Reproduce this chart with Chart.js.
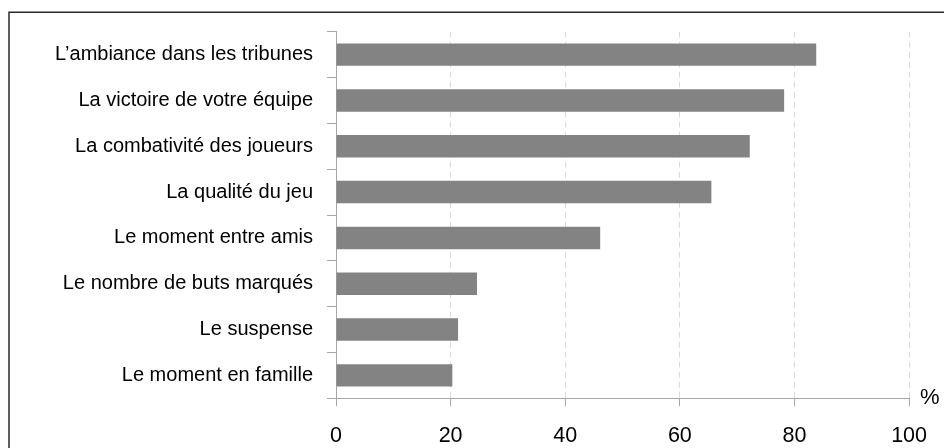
<!DOCTYPE html>
<html>
<head>
<meta charset="utf-8">
<script src="https://cdn.jsdelivr.net/npm/chart.js@4/dist/chart.umd.min.js"></script>
<style>
  html, body { margin: 0; padding: 0; background: #fff; }
  #wrap { position: relative; width: 944px; height: 448px; }
</style>
</head>
<body>
<div id="wrap"><canvas id="chart" width="944" height="448"></canvas></div>
<script>
// Survey answers: what matters most when attending a match (%)
const categories = [
  "L\u2019ambiance dans les tribunes",
  "La victoire de votre équipe",
  "La combativité des joueurs",
  "La qualité du jeu",
  "Le moment entre amis",
  "Le nombre de buts marqués",
  "Le suspense",
  "Le moment en famille"
];
const shares = [83.8, 78.2, 72.2, 65.5, 46.1, 24.6, 21.3, 20.3];
const xTicks = [0, 20, 40, 60, 80, 100];
const unitLabel = "%";

const FONT = "'Liberation Sans', Arial, sans-serif";
const AXIS_GREY = "#a6a6a6";

// Frame around the figure and the unit label at the end of the value axis
const decorations = {
  id: "decorations",
  beforeDraw(chart) {
    const { ctx } = chart;
    ctx.save();
    ctx.fillStyle = "#fff";
    ctx.fillRect(0, 0, chart.width, chart.height);
    ctx.strokeStyle = "#2a2a2a";
    ctx.lineWidth = 1.5;
    ctx.strokeRect(9, 12.25, 1000, 1000);
    ctx.restore();
  },
  afterDraw(chart) {
    const { ctx } = chart;
    const xs = chart.scales.x;
    ctx.save();
    ctx.fillStyle = "#000";
    ctx.font = "22px " + FONT;
    ctx.textAlign = "left";
    ctx.textBaseline = "middle";
    ctx.fillText(unitLabel, xs.right + 11, xs.top);
    ctx.restore();
  }
};

new Chart(document.getElementById("chart"), {
  type: "bar",
  data: {
    labels: categories,
    datasets: [{
      data: shares,
      backgroundColor: "#838383",
      borderWidth: 0,
      categoryPercentage: 1,
      barPercentage: 0.49
    }]
  },
  options: {
    indexAxis: "y",
    responsive: false,
    animation: false,
    layout: { padding: { top: 31.7, right: 28.3, left: 0, bottom: 0 } },
    plugins: { legend: { display: false }, tooltip: { enabled: false } },
    scales: {
      x: {
        min: 0,
        max: 100,
        afterFit(scale) { scale.height = 49.7; },
        afterBuildTicks(scale) { scale.ticks = xTicks.map(v => ({ value: v })); },
        ticks: {
          color: "#000",
          font: { family: FONT, size: 21.5 },
          padding: 17,
          maxRotation: 0
        },
        grid: {
          color: "#dadada",
          lineWidth: 1,
          borderDash: [6, 4],
          tickLength: 8,
          tickColor: AXIS_GREY,
          tickBorderDash: []
        },
        border: { color: AXIS_GREY, width: 1, dash: [6, 4] }
      },
      y: {
        afterFit(scale) { scale.width = 336; },
        ticks: {
          color: "#000",
          font: { family: FONT, size: 20 },
          padding: 14
        },
        grid: {
          offset: true,
          drawOnChartArea: false,
          tickLength: 9,
          tickColor: AXIS_GREY
        },
        border: { color: AXIS_GREY, width: 1 }
      }
    }
  },
  plugins: [decorations]
});
</script>
</body>
</html>
